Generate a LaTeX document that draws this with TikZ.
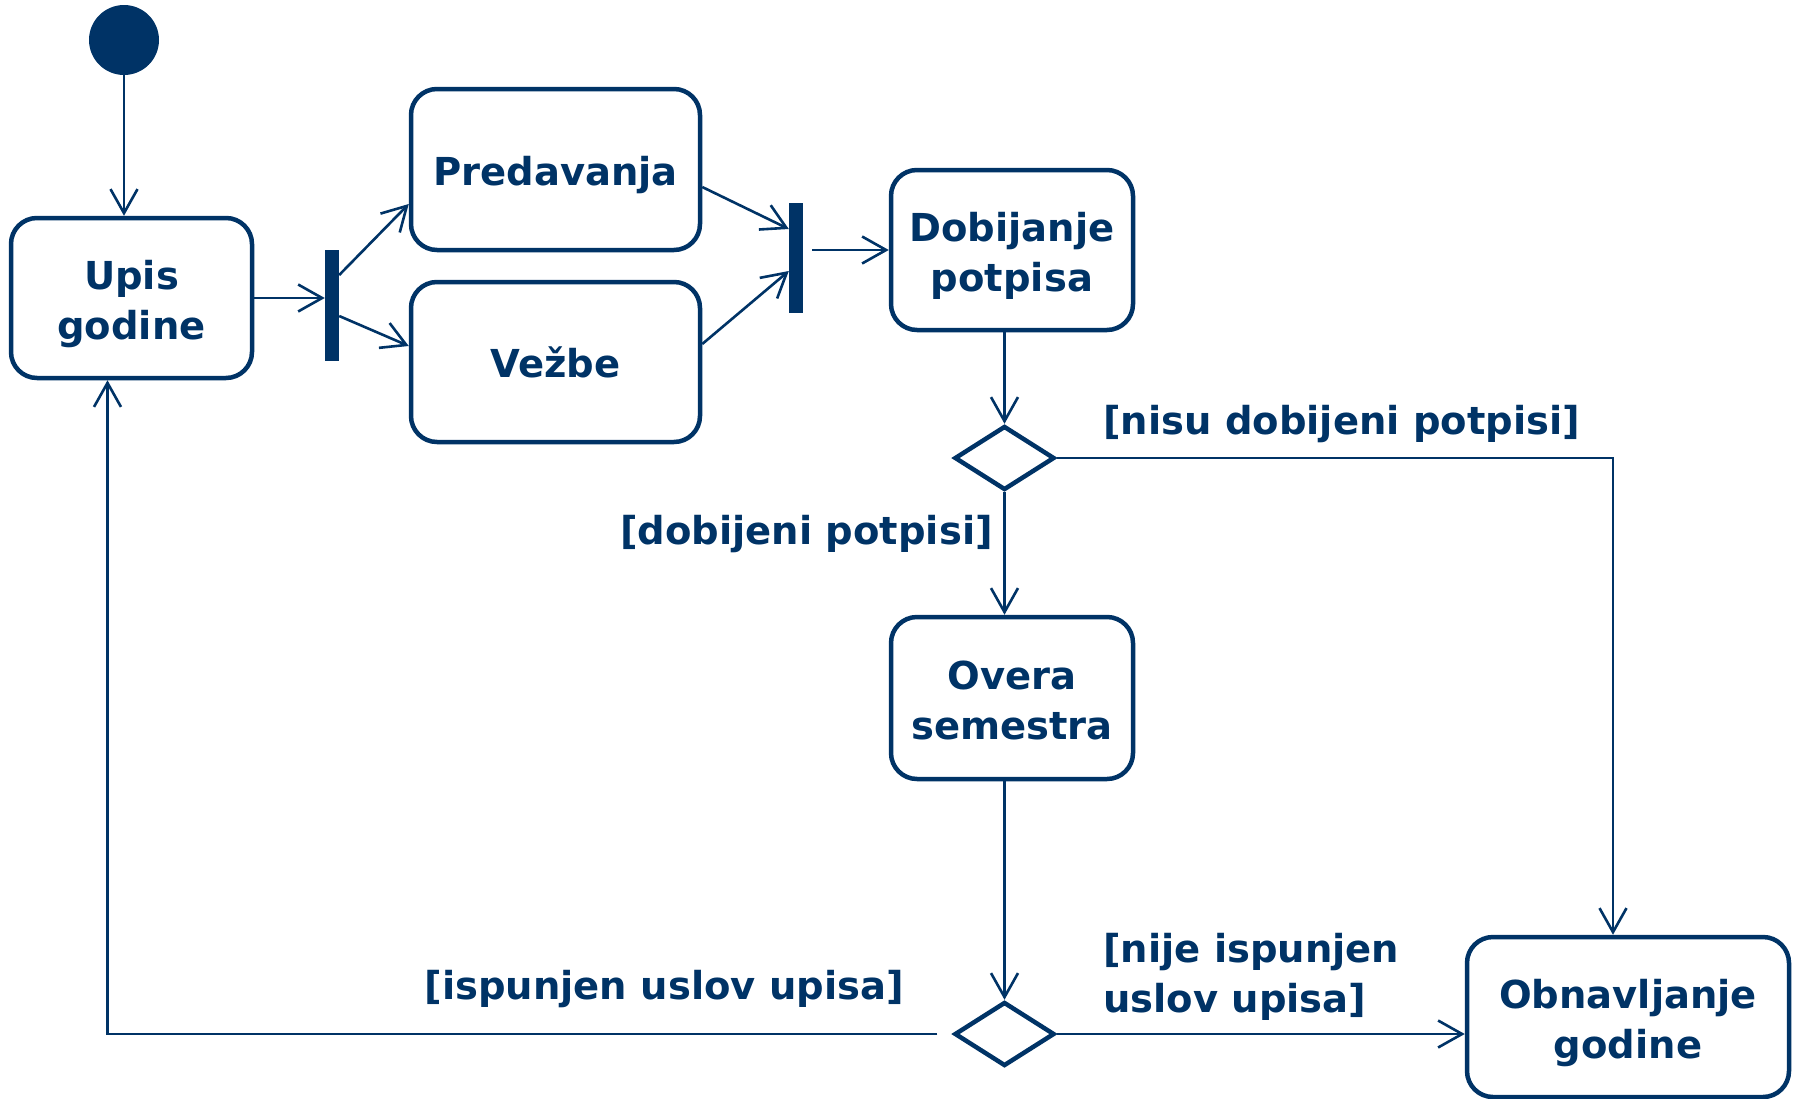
\documentclass[tikz,border=0pt]{standalone}
\usepackage{fontspec}
\setmainfont{DejaVu Sans}
\usetikzlibrary{arrows.meta,shapes.geometric,calc}
\definecolor{navy}{RGB}{0,51,102}
\begin{document}
\begin{tikzpicture}[x=1pt,y=-1pt,
  act/.style={draw=navy,line width=4.5pt,rounded corners=26pt,inner sep=0pt},
  acttext/.style={align=center,text=navy,font=\fontsize{38.5}{50}\selectfont\bfseries,inner sep=0pt},
  barnode/.style={fill=navy,draw=none,minimum width=14pt,minimum height=111pt,inner sep=0pt},
  decis/.style={diamond,draw=navy,line width=4.5pt,minimum width=100pt,minimum height=64pt,inner sep=0pt,aspect=1.56},
  arr/.style={draw=navy,line width=2.6pt,-{Straight Barb[length=24pt,width=27pt,line width=2.6pt]}},
  guard/.style={text=navy,font=\fontsize{38.5}{50}\selectfont\bfseries,inner sep=0pt,align=left}]
\useasboundingbox (0,0) rectangle (1796,1098);
\node[circle,fill=navy,minimum size=70pt,inner sep=0pt] (start) at (124,40) {};
\node[act,minimum width=241pt,minimum height=160pt] (upis) at (131.5,298) {};
\node[acttext] (upisT) at ([yshift=-6pt]upis.center) {Upis\\godine};
\node[barnode] (fork) at (332,305.5) {};
\node[act,minimum width=289pt,minimum height=161pt] (pred) at (555.5,169.5) {};
\node[acttext] (predT) at ([yshift=-6pt]pred.center) {Predavanja};
\node[act,minimum width=289pt,minimum height=160pt] (vezbe) at (555.5,362) {};
\node[acttext] (vezbeT) at (vezbe.center) {Vežbe};
\node[barnode,minimum height=110pt] (join) at (796,258) {};
\node[act,minimum width=242pt,minimum height=160pt] (dob) at (1012,250) {};
\node[acttext] (dobT) at ([yshift=-6pt]dob.center) {Dobijanje\\potpisa};
\node[decis] (d1) at (1004.5,458) {};
\node[act,minimum width=242pt,minimum height=162pt] (overa) at (1012,698) {};
\node[acttext] (overaT) at ([yshift=-2.5pt]overa.center) {Overa\\semestra};
\node[decis] (d2) at (1004.5,1034) {};
\node[act,minimum width=322pt,minimum height=160pt] (obn) at (1628,1017) {};
\node[acttext] (obnT) at ([yshift=-6.5pt]obn.center) {Obnavljanje\\godine};

\node[guard,anchor=west] (g1) at (1103,424.5) {[nisu dobijeni potpisi]};
\node[guard,anchor=east] (g2) at (993,534) {[dobijeni potpisi]};
\node[guard,anchor=east] (g3) at (904,989) {[ispunjen uslov upisa]};
\node[guard,anchor=west] (g4) at (1103,977) {[nije ispunjen\\uslov upisa]};

\draw[arr] (start.south) -- (start.south |- upis.north);
\draw[arr] (upis.east) -- (upis.east -| fork.west);
\draw[arr] ([yshift=30.5pt]fork.east) -- ([yshift=-34.5pt]pred.west);
\draw[arr] ([yshift=-10.5pt]fork.east) -- ([yshift=16pt]vezbe.west);
\draw[arr] ([yshift=-17.5pt]pred.east) -- ([yshift=29pt]join.west);
\draw[arr] ([yshift=18pt]vezbe.east) -- ([yshift=-13pt]join.west);
\coordinate (j1) at ([xshift=9pt]join.east);
\draw[arr] (j1 |- dob.west) -- (dob.west);
\draw[arr] (dob.south -| d1.north) -- (d1.north);
\draw[arr] (d1.south) -- (d1.south |- overa.north);
\coordinate (obntop) at ([xshift=-15pt]obn.north);
\draw[arr] (d1.east) -| (obntop);
\draw[arr] (overa.south -| d2.north) -- (d2.north);
\draw[arr] (d2.east) -- (d2.east -| obn.west);
\coordinate (gap) at ([xshift=-15pt]d2.west);
\coordinate (upisbot) at ([xshift=-24pt]upis.south);
\draw[arr] (gap) -| (upisbot);
\end{tikzpicture}
\end{document}
